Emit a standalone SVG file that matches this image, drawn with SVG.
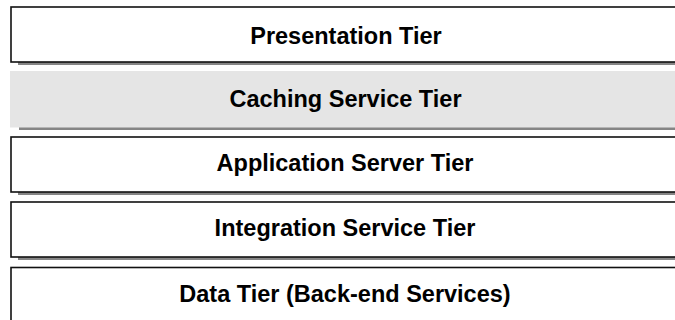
<svg xmlns="http://www.w3.org/2000/svg" width="675" height="320" viewBox="0 0 675 320">
<style>
.shadow{fill:#858585}
.box{fill:#ffffff;stroke:#111111;stroke-width:1.6}
.gray{fill:#e5e5e5;stroke:none}
.lbl{font-family:"Liberation Sans",Arial,sans-serif;font-weight:bold;font-size:23.5px;fill:#000000;text-anchor:middle}
</style>
<rect width="675" height="320" fill="#ffffff"/>
<g id="presentation">
<rect class="shadow" x="18" y="10" width="680" height="55"/>
<rect class="box" x="11" y="7" width="680" height="55"/>
<text class="lbl" x="346" y="44">Presentation Tier</text>
</g>
<g id="caching">
<rect class="shadow" x="19" y="74.5" width="680" height="55.5"/>
<rect class="gray" x="10" y="71" width="680" height="56.5"/>
<text class="lbl" x="345.5" y="107">Caching Service Tier</text>
</g>
<g id="application">
<rect class="shadow" x="18" y="140" width="680" height="55"/>
<rect class="box" x="11" y="137" width="680" height="55"/>
<text class="lbl" x="345" y="170.5">Application Server Tier</text>
</g>
<g id="integration">
<rect class="shadow" x="18" y="205" width="680" height="55"/>
<rect class="box" x="11" y="202" width="680" height="55"/>
<text class="lbl" x="345" y="236">Integration Service Tier</text>
</g>
<g id="data">
<rect class="shadow" x="18" y="270" width="680" height="55"/>
<rect class="box" x="11" y="267.5" width="680" height="60"/>
<text class="lbl" x="345" y="302">Data Tier (Back-end Services)</text>
</g>
<g id="connectors"/>
</svg>
